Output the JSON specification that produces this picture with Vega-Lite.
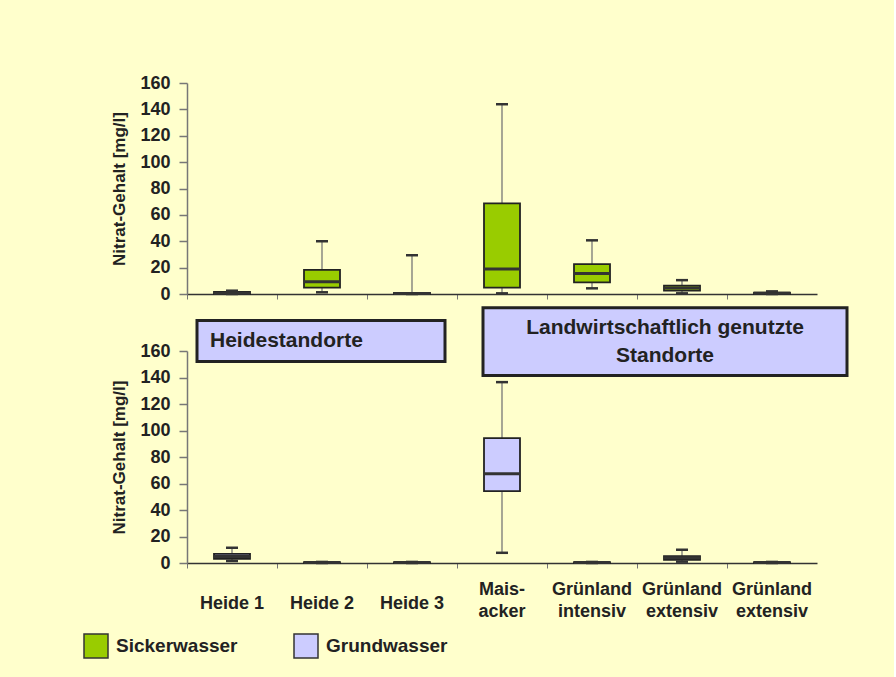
{
  "$schema": "https://vega.github.io/schema/vega-lite/v6.json",
  "background": "#FFFFCC",
  "padding": {"left": 83, "top": 74, "right": 45, "bottom": 18},
  "datasets": {
    "boxes": [
      {"Standort": "Heide 1", "Wasser": "Sickerwasser", "min": 0, "q1": 0, "median": 0.6, "q3": 1.5, "max": 2.5},
      {"Standort": "Heide 2", "Wasser": "Sickerwasser", "min": 1.3, "q1": 4.8, "median": 9.3, "q3": 18.3, "max": 40},
      {"Standort": "Heide 3", "Wasser": "Sickerwasser", "min": 0, "q1": 0, "median": 0.3, "q3": 0.8, "max": 29.4},
      {"Standort": "Maisacker", "Wasser": "Sickerwasser", "min": 0.5, "q1": 4.8, "median": 18.9, "q3": 68.7, "max": 143.9},
      {"Standort": "Grünland intensiv", "Wasser": "Sickerwasser", "min": 4.3, "q1": 8.8, "median": 15.6, "q3": 22.6, "max": 40.7},
      {"Standort": "Grünland extensiv", "Wasser": "Sickerwasser", "min": 0.5, "q1": 2.5, "median": 4.5, "q3": 6.3, "max": 10.5},
      {"Standort": "Grünland extensiv (2)", "Wasser": "Sickerwasser", "min": 0, "q1": 0, "median": 0.5, "q3": 1, "max": 2},
      {"Standort": "Heide 1", "Wasser": "Grundwasser", "min": 1.5, "q1": 3.2, "median": 5, "q3": 6.9, "max": 11.5},
      {"Standort": "Heide 2", "Wasser": "Grundwasser", "min": 0, "q1": 0, "median": 0.3, "q3": 0.6, "max": 0.8},
      {"Standort": "Heide 3", "Wasser": "Grundwasser", "min": 0, "q1": 0, "median": 0.3, "q3": 0.6, "max": 0.8},
      {"Standort": "Maisacker", "Wasser": "Grundwasser", "min": 7.7, "q1": 54.2, "median": 67.3, "q3": 94.2, "max": 136.5},
      {"Standort": "Grünland intensiv", "Wasser": "Grundwasser", "min": 0, "q1": 0, "median": 0.3, "q3": 0.6, "max": 0.8},
      {"Standort": "Grünland extensiv", "Wasser": "Grundwasser", "min": 1, "q1": 2.4, "median": 4, "q3": 5.1, "max": 10},
      {"Standort": "Grünland extensiv (2)", "Wasser": "Grundwasser", "min": 0, "q1": 0, "median": 0.3, "q3": 0.6, "max": 0.8}
    ],
    "labels": [
      {"Standort": "Heide 1", "Label": "Heide 1"},
      {"Standort": "Heide 2", "Label": "Heide 2"},
      {"Standort": "Heide 3", "Label": "Heide 3"},
      {"Standort": "Maisacker", "Label": "Mais-|acker"},
      {"Standort": "Grünland intensiv", "Label": "Grünland|intensiv"},
      {"Standort": "Grünland extensiv", "Label": "Grünland|extensiv"},
      {"Standort": "Grünland extensiv (2)", "Label": "Grünland|extensiv"}
    ]
  },
  "config": {
    "font": "Liberation Sans",
    "view": {"stroke": null},
    "axis": {
      "labelFont": "Liberation Sans", "labelFontWeight": "bold", "labelColor": "#222",
      "titleFont": "Liberation Sans", "titleFontWeight": "bold", "titleColor": "#222",
      "grid": false, "labelOverlap": false
    },
    "axisY": {"labelOverlap": false, "tickCount": 9},
    "axisQuantitative": {"labelOverlap": false},
    "legend": {
      "orient": "none", "legendX": -104, "legendY": 550, "direction": "horizontal", "padding": 0,
      "symbolType": "square", "symbolSize": 576, "symbolStrokeColor": "#333", "symbolStrokeWidth": 1.5,
      "labelFontSize": 19, "labelFontWeight": "bold", "labelColor": "#222", "labelOffset": 7, "columnPadding": 53
    }
  },
  "vconcat": [
    {
      "width": 630, "height": 211,
      "data": {"name": "boxes"},
      "transform": [{"filter": "datum.Wasser === 'Sickerwasser'"}],
      "encoding": {
        "x": {"field": "Standort", "type": "nominal",
          "scale": {"domain": ["Heide 1", "Heide 2", "Heide 3", "Maisacker", "Grünland intensiv", "Grünland extensiv", "Grünland extensiv (2)"], "paddingInner": 0, "paddingOuter": 0},
          "axis": {"title": null, "labels": false, "bandPosition": 0, "tickSize": 5, "tickColor": "#777", "domainColor": "#333", "domainWidth": 1.5}}
      },
      "layer": [
        {"mark": {"type": "rule", "color": "#777", "strokeWidth": 1.3},
         "encoding": {"y": {"field": "min", "type": "quantitative", "scale": {"domain": [0, 160], "nice": false},
            "axis": {"title": "Nitrat-Gehalt [mg/l]", "titleFontSize": 17, "titlePadding": 11, "labelFontSize": 18, "labelOverlap": false, "labelBound": false, "tickCount": 9, "values": [0, 20, 40, 60, 80, 100, 120, 140, 160], "tickSize": 8, "tickColor": "#777", "tickWidth": 1.5, "domainColor": "#777", "domainWidth": 1.5, "labelPadding": 9}},
           "y2": {"field": "max"}}},
        {"mark": {"type": "bar", "size": 36, "stroke": "#222", "strokeWidth": 1.8},
         "encoding": {"y": {"field": "q1", "type": "quantitative"},
           "y2": {"field": "q3"},
           "fill": {"field": "Wasser", "type": "nominal", "title": null,
             "scale": {"domain": ["Sickerwasser", "Grundwasser"], "range": ["#99CC00", "#CCCCFF"]}}}},
        {"mark": {"type": "tick", "orient": "horizontal", "size": 36, "thickness": 3, "color": "#333", "opacity": 1},
         "encoding": {"y": {"field": "median", "type": "quantitative"}}},
        {"mark": {"type": "tick", "orient": "horizontal", "size": 12, "thickness": 2.5, "color": "#333", "opacity": 1},
         "encoding": {"y": {"field": "max", "type": "quantitative"}}},
        {"mark": {"type": "tick", "orient": "horizontal", "size": 12, "thickness": 2.5, "color": "#333", "opacity": 1},
         "encoding": {"y": {"field": "min", "type": "quantitative"}}}
      ]
    },
    {
      "width": 630, "height": 212,
      "encoding": {
        "x": {"field": "Standort", "type": "nominal",
          "scale": {"domain": ["Heide 1", "Heide 2", "Heide 3", "Maisacker", "Grünland intensiv", "Grünland extensiv", "Grünland extensiv (2)"], "paddingInner": 0, "paddingOuter": 0},
          "axis": {"title": null, "labels": false, "bandPosition": 0, "tickSize": 5, "tickColor": "#777", "domainColor": "#333", "domainWidth": 1.5}}
      },
      "layer": [
        {
          "data": {"name": "boxes"},
          "transform": [{"filter": "datum.Wasser === 'Grundwasser'"}],
          "layer": [
            {"mark": {"type": "rule", "color": "#777", "strokeWidth": 1.3},
             "encoding": {"y": {"field": "min", "type": "quantitative",
                "scale": {"domain": [0, 160], "nice": false},
                "axis": {"title": "Nitrat-Gehalt [mg/l]", "titleFontSize": 17, "titlePadding": 11, "labelFontSize": 18, "labelOverlap": false, "labelBound": false, "tickCount": 9, "values": [0, 20, 40, 60, 80, 100, 120, 140, 160], "tickSize": 8, "tickColor": "#777", "tickWidth": 1.5, "domainColor": "#777", "domainWidth": 1.5, "labelPadding": 9}},
               "y2": {"field": "max"}}},
            {"mark": {"type": "bar", "size": 36, "stroke": "#222", "strokeWidth": 1.8},
             "encoding": {"y": {"field": "q1", "type": "quantitative"},
               "y2": {"field": "q3"},
               "fill": {"field": "Wasser", "type": "nominal", "title": null,
                 "scale": {"domain": ["Sickerwasser", "Grundwasser"], "range": ["#99CC00", "#CCCCFF"]}}}},
            {"mark": {"type": "tick", "orient": "horizontal", "size": 36, "thickness": 3, "color": "#333", "opacity": 1},
             "encoding": {"y": {"field": "median", "type": "quantitative"}}},
            {"mark": {"type": "tick", "orient": "horizontal", "size": 12, "thickness": 2.5, "color": "#333", "opacity": 1},
             "encoding": {"y": {"field": "max", "type": "quantitative"}}},
            {"mark": {"type": "tick", "orient": "horizontal", "size": 12, "thickness": 2.5, "color": "#333", "opacity": 1},
             "encoding": {"y": {"field": "min", "type": "quantitative"}}}
          ]
        },
        {
          "data": {"name": "labels"},
          "transform": [{"filter": "indexof(datum.Label, '|') < 0"}],
          "mark": {"type": "text", "align": "center", "baseline": "middle", "fontSize": 18, "fontWeight": "bold", "color": "#222"},
          "encoding": {"y": {"datum": -31, "type": "quantitative"}, "text": {"field": "Label"}}
        },
        {
          "data": {"name": "labels"},
          "transform": [{"filter": "indexof(datum.Label, '|') >= 0"}],
          "mark": {"type": "text", "align": "center", "baseline": "middle", "fontSize": 18, "fontWeight": "bold", "color": "#222", "lineBreak": "|", "lineHeight": 22},
          "encoding": {"y": {"datum": -20, "type": "quantitative"}, "text": {"field": "Label"}}
        },
        {
          "data": {"values": [{"label": "Heidestandorte"}]},
          "layer": [
            {"mark": {"type": "rect", "fill": "#CCCCFF", "stroke": "#222", "strokeWidth": 3, "xOffset": -35, "x2Offset": 33},
             "encoding": {"x": {"datum": "Heide 1", "type": "nominal"}, "x2": {"datum": "Heide 3"},
               "y": {"datum": 183, "type": "quantitative"}, "y2": {"datum": 152}}},
            {"mark": {"type": "text", "align": "left", "baseline": "middle", "fontSize": 21, "fontWeight": "bold", "color": "#222", "dx": -22},
             "encoding": {"x": {"datum": "Heide 1", "type": "nominal"}, "y": {"datum": 167.5, "type": "quantitative"}, "text": {"field": "label"}}}
          ]
        },
        {
          "data": {"values": [{"label": "Landwirtschaftlich genutzte|Standorte"}]},
          "layer": [
            {"mark": {"type": "rect", "fill": "#CCCCFF", "stroke": "#222", "strokeWidth": 3, "xOffset": -19, "x2Offset": 75},
             "encoding": {"x": {"datum": "Maisacker", "type": "nominal"}, "x2": {"datum": "Grünland extensiv (2)"},
               "y": {"datum": 192.6, "type": "quantitative"}, "y2": {"datum": 141.5}}},
            {"mark": {"type": "text", "align": "center", "baseline": "middle", "fontSize": 21, "fontWeight": "bold", "color": "#222", "lineBreak": "|", "lineHeight": 28, "dx": -17},
             "encoding": {"x": {"datum": "Grünland extensiv", "type": "nominal"}, "y": {"datum": 177, "type": "quantitative"}, "text": {"field": "label"}}}
          ]
        }
      ]
    }
  ],
  "spacing": 3
}
